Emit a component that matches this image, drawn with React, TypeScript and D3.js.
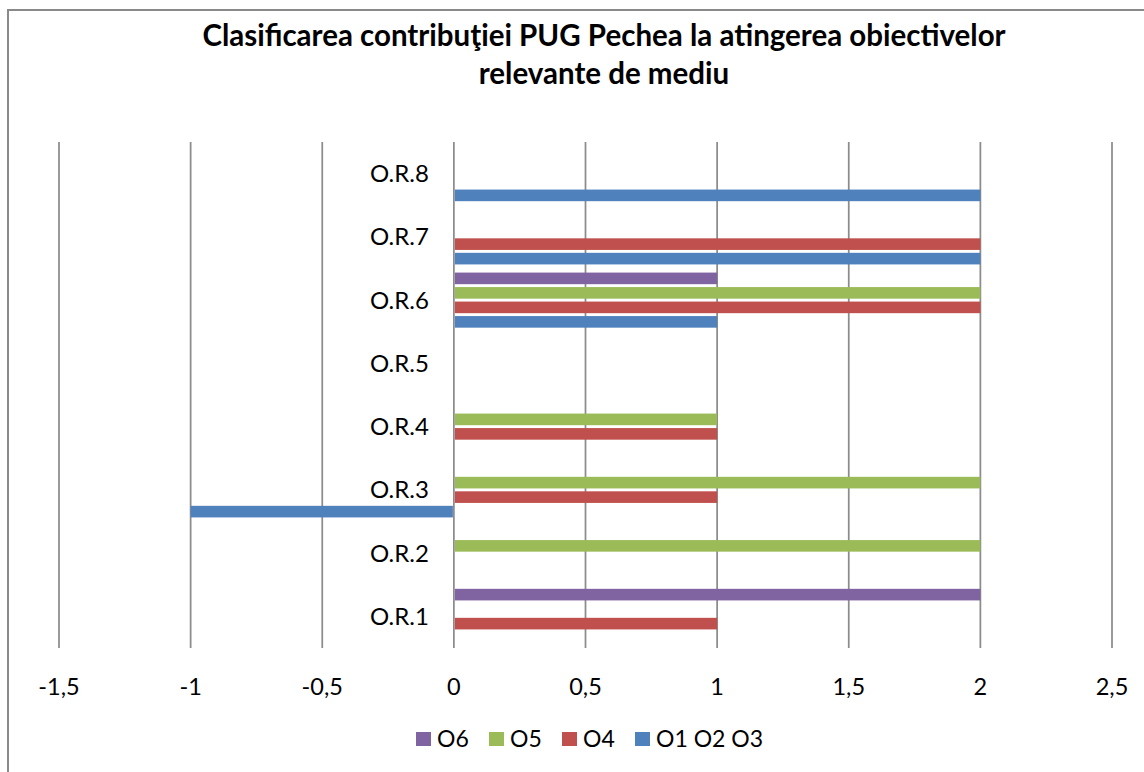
import * as d3 from "d3";

// categories bottom -> top as they appear in the chart
const categories = ["O.R.1", "O.R.2", "O.R.3", "O.R.4", "O.R.5", "O.R.6", "O.R.7", "O.R.8"];

// series, in legend order (top of each group first)
const seriesNames = ["O6", "O5", "O4", "O1 O2 O3"];
const seriesColors = ["#8064A2", "#9BBB59", "#C0504D", "#4F81BD"];

// values per category (O.R.1 .. O.R.8)
const o6 = [2, 0, 0, 0, 0, 1, 0, 0];
const o5 = [0, 2, 2, 1, 0, 2, 0, 0];
const o4 = [1, 0, 1, 1, 0, 2, 2, 0];
const o123 = [0, 0, -1, 0, 0, 1, 2, 2];
const seriesValues = [o6, o5, o4, o123];

const tickValues = [-1.5, -1, -0.5, 0, 0.5, 1, 1.5, 2, 2.5];

const titleLines = [
  "Clasificarea contribuţiei PUG Pechea la atingerea obiectivelor",
  "relevante de mediu",
];

const W = 1144;
const H = 772;
const FONT = "Lato, 'Open Sans', sans-serif";

const plot = { left: 59, right: 1112, top: 142, bottom: 648 };

export default function App() {
  const x = d3.scaleLinear().domain([-1.5, 2.5]).range([plot.left, plot.right]);
  const y = d3
    .scaleBand<string>()
    .domain([...categories].reverse())
    .range([plot.top, plot.bottom]);
  const inner = d3
    .scaleBand<string>()
    .domain(seriesNames)
    .range([-29, 29])
    .paddingInner(0.2)
    .paddingOuter(0.1);

  const fmt = d3.formatLocale({
    decimal: ",",
    thousands: ".",
    grouping: [3],
    currency: ["", " lei"],
    minus: "-",
  }).format("~g");

  const legendX = [416, 489, 562, 635];

  return (
    <svg
      width={W}
      height={H}
      style={{ position: "absolute", left: 0, top: 0, background: "#fff" }}
      fontFamily={FONT}
    >
      <rect x={0} y={0} width={W} height={H} fill="#fff" />
      {/* chart border (left and top visible) */}
      <path d={`M8,${H} V10 H${W}`} fill="none" stroke="#8a8a8a" strokeWidth={2} />

      {/* title */}
      {titleLines.map((t, i) => (
        <text
          key={i}
          x={604}
          y={46 + i * 38}
          textAnchor="middle"
          fontWeight="bold"
          fontSize={29.5}
          fill="#000"
        >
          {t}
        </text>
      ))}

      {/* gridlines */}
      {tickValues.map((v) => (
        <line
          key={v}
          x1={x(v)}
          x2={x(v)}
          y1={plot.top}
          y2={plot.bottom}
          stroke="#8c8c8c"
          strokeWidth={1.75}
        />
      ))}

      {/* bars */}
      {seriesValues.map((vals, si) =>
        vals.map((v, ci) => {
          if (v === 0) return null;
          const cy = y(categories[ci])! + y.bandwidth() / 2 + inner(seriesNames[si])!;
          const x0 = x(Math.min(0, v));
          const x1 = x(Math.max(0, v));
          return (
            <rect
              key={`${si}-${ci}`}
              x={x0 + (v > 0 ? 1 : 0)}
              y={cy}
              width={x1 - x0 - 1}
              height={inner.bandwidth()}
              fill={seriesColors[si]}
            />
          );
        })
      )}

      {/* category labels */}
      {categories.map((c) => (
        <text
          key={c}
          x={x(0) - 25}
          y={y(c)! + y.bandwidth() / 2 + 8.5}
          textAnchor="end"
          fontSize={24}
          fill="#000"
        >
          {c}
        </text>
      ))}

      {/* x tick labels */}
      {tickValues.map((v) => (
        <text key={v} x={x(v)} y={695} textAnchor="middle" fontSize={23.5} fill="#000">
          {fmt(v)}
        </text>
      ))}

      {/* legend */}
      {seriesNames.map((s, i) => (
        <g key={s} transform={`translate(${legendX[i]},732)`}>
          <rect x={0} y={0} width={15} height={14} fill={seriesColors[i]} />
          <text x={21} y={15} fontSize={23} fill="#000">
            {s}
          </text>
        </g>
      ))}
    </svg>
  );
}
